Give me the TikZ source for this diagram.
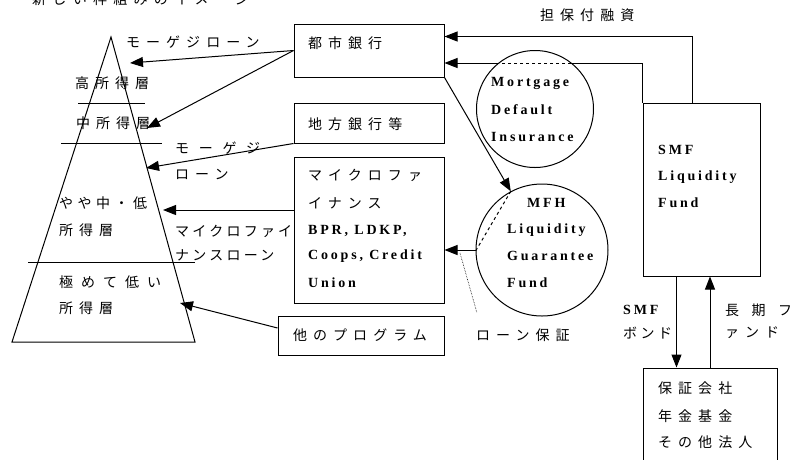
\documentclass[tikz,border=0pt]{standalone}
\usepackage{fontspec}
\setmainfont{Liberation Serif}
\newfontfamily\jp[LetterSpace=43]{Noto Sans CJK JP}
\newfontfamily\lat[LetterSpace=20]{Liberation Serif}
\usetikzlibrary{arrows.meta,calc}
\tikzset{
  box/.style={draw, line width=1pt, inner sep=0pt},
  ln/.style={line width=1pt},
  arr/.style={line width=1pt, -{Triangle[length=13pt,width=10pt]}},
  jt/.style={font=\jp\fontsize{14}{27}\selectfont, anchor=west, inner sep=0pt},
  jsp/.style={jt, font=\jp\fontsize{14}{27}\selectfont\addfontfeature{LetterSpace=#1}},
  lt/.style={font=\lat\bfseries\fontsize{14}{27}\selectfont, anchor=west, inner sep=0pt},
}
\begin{document}
\begin{tikzpicture}[x=1pt,y=-1pt]
\useasboundingbox (0,0) rectangle (793,459);
\fill[white] (0,0) rectangle (793,459);
\clip (0,0) rectangle (793,459);

% title (cut off at the top)
\node[jsp=45] (title) at (32,-0.5) {新しい枠組みのイメージ};

% pyramid
\draw[ln] (111,37) -- (195,342) -- (12,342) -- cycle;
\draw[ln] (78,103) -- (145,103);
\draw[ln] (61,143) -- (162,143);
\draw[ln] (28,262) -- (195,262);
\node[jt] (hi) at (75,83) {高所得層};
\node[jt] (mid) at (76,123) {中所得層};
\node[jsp=32] (low1) at (59,203) {やや中・低};
\node[jt] (low2) at (59,230) {所得層};
\node[jsp=57] (vlow1) at (59,282) {極めて低い};
\node[jt] (vlow2) at (59,308) {所得層};

% boxes
\node[box, minimum width=150pt, minimum height=53pt] (city) at (369,50.5) {};
\node[box, minimum width=150pt, minimum height=40pt] (local) at (369,123) {};
\node[box, minimum width=150pt, minimum height=146pt] (mf) at (369,230) {};
\node[box, minimum width=166pt, minimum height=39pt] (other) at (361,335.5) {};
\node[box, minimum width=117pt, minimum height=173pt] (smf) at (701.5,189.5) {};
\node[box, minimum width=134pt, minimum height=110pt] (gua) at (710,423) {};
\node[draw, circle, line width=1pt, minimum size=117pt, inner sep=0pt] (mdi) at (535,109) {};
\node[draw, circle, line width=1pt, minimum size=132pt, inner sep=0pt] (mfh) at (542,250) {};

% box texts
\node[jt] (tcity) at (308,43) {都市銀行};
\node[jt] (tlocal) at (308,124) {地方銀行等};
\node[jt] (tmf1) at (308,175) {マイクロファ};
\node[jt] (tmf2) at (308,203) {イナンス};
\node[lt] (tmf3) at (308,231) {BPR, LDKP,};
\node[lt] (tmf4) at (308,256) {Coops, Credit};
\node[lt] (tmf5) at (308,283) {Union};
\node[jt] (tother) at (293,335) {他のプログラム};
\node[lt] (tsmf1) at (658,150) {SMF};
\node[lt] (tsmf2) at (658,177) {Liquidity};
\node[lt] (tsmf3) at (658,203) {Fund};
\node[lt] (tmdi1) at (491,83) {Mortgage};
\node[lt] (tmdi2) at (491,110) {Default};
\node[lt] (tmdi3) at (491,137) {Insurance};
\node[lt] (tmfh1) at (527,203) {MFH};
\node[lt] (tmfh2) at (507,230) {Liquidity};
\node[lt] (tmfh3) at (507,256) {Guarantee};
\node[lt] (tmfh4) at (507,283) {Fund};
\node[jt] (tgua1) at (658,388) {保証会社};
\node[jt] (tgua2) at (658,416) {年金基金};
\node[jt] (tgua3) at (658,442) {その他法人};

% connector labels
\node[jt] (lmort) at (126,42) {モーゲジローン};
\node[jsp=69] (lmort2a) at (175,148) {モーゲジ};
\node[jt] (lmort2b) at (175,174) {ローン};
\node[jsp=23] (lmfa) at (175,231) {マイクロファイ};
\node[jsp=23] (lmfb) at (175,255) {ナンスローン};
\node[jt] (lcoll) at (540,15) {担保付融資};
\node[jt] (lguar) at (476,335) {ローン保証};
\node[lt] (lbond1) at (623,310) {SMF};
\node[jsp=25] (lbond2) at (623,333) {ボンド};
\node[jsp=89] (lfund1) at (725,310) {長期フ};
\node[jt] (lfund2) at (725,333) {ァンド};

% arrow end points at the pyramid
\coordinate (p1) at (130,63);
\coordinate (p2) at (147,128);
\coordinate (p3) at (146,168);
\coordinate (p4) at (163,210);
\coordinate (p5) at (180,303);
\coordinate (mR) at (571,63);
\coordinate (mL) at (499,63);
\coordinate (dotA) at (460,253);
\coordinate (dotB) at (477,313);
\coordinate (bondTop) at ([xshift=34pt]smf.south west);

% connectors
\draw[arr] (city.west) -- (p1);
\draw[arr] (city.west) -- (p2);
\draw[arr] (local.south west) -- (p3);
\draw[arr] (p4 -| mf.west) -- (p4);
\draw[arr] ([yshift=7.5pt]other.west) -- (p5);
\draw[arr] (city.south east) -- (mfh.118);
\draw[ln, dashed] (mfh.118) -- (mfh.181);
\draw[arr] (mfh.west) -- (mfh.west -| mf.east);
\draw[densely dotted, black, line width=0.6pt] (dotA) -- (dotB);
\draw[arr] ([xshift=50pt]smf.north west) |- ([yshift=-13pt]city.north east);
\draw[ln] (smf.north west) |- (mR);
\draw[ln, dashed] (mR) -- (mL);
\draw[arr] (mL) -- (mL -| city.east);
\draw[arr] (bondTop) -- (bondTop |- gua.north);
\draw[arr] (gua.north) -- (gua.north |- smf.south);
\end{tikzpicture}
\end{document}
